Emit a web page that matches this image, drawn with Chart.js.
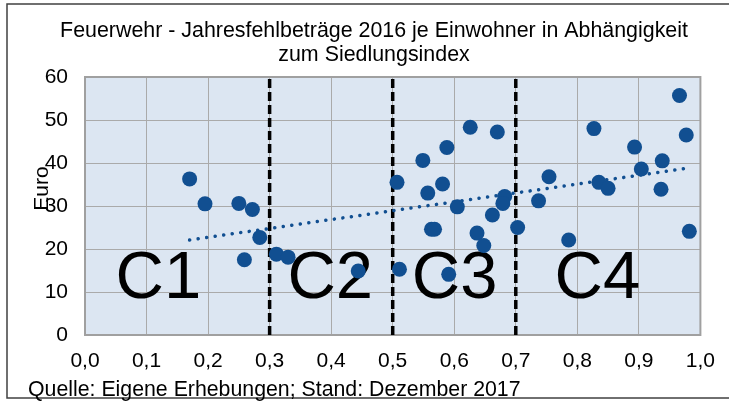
<!DOCTYPE html>
<html>
<head>
<meta charset="utf-8">
<script src="https://cdn.jsdelivr.net/npm/chart.js@4/dist/chart.umd.min.js"></script>
<style>
html,body{margin:0;padding:0;background:#fff;}
#wrap{width:729px;height:403px;position:relative;}
</style>
</head>
<body>
<div id="wrap"><canvas id="c" width="729" height="403"></canvas></div>
<script>
// ---- data ----
const titleLines = ['Feuerwehr - Jahresfehlbeträge 2016 je Einwohner in Abhängigkeit', 'zum Siedlungsindex'];
const yAxisTitle = 'Euro';
const footerText = 'Quelle: Eigene Erhebungen; Stand: Dezember 2017';

const xTickLabels = ['0,0','0,1','0,2','0,3','0,4','0,5','0,6','0,7','0,8','0,9','1,0'];
const yTickLabels = ['0','10','20','30','40','50','60'];

// Siedlungsindex (x) and Euro per inhabitant (y)
const siedlungsindex = [0.170,0.195,0.250,0.272,0.284,0.259,0.311,0.330,0.444,0.507,0.511,0.549,0.557,0.581,0.588,0.626,0.670,0.563,0.568,0.605,0.591,0.637,0.648,0.662,0.682,0.679,0.703,0.737,0.754,0.786,0.827,0.835,0.850,0.893,0.904,0.938,0.936,0.966,0.977,0.982];
const euro =           [36.3, 30.5, 30.6, 29.2, 22.7, 17.5, 18.8, 18.1, 14.9, 35.5, 15.3, 40.6, 33.0, 35.1, 43.6, 48.3, 47.2, 24.6, 24.6, 29.8, 14.1, 23.7, 20.8, 27.9, 32.2, 30.6, 25.0, 31.2, 36.8, 22.1, 48.0, 35.5, 34.1, 43.7, 38.6, 40.5, 33.9, 55.7, 46.5, 24.1];

// linear trend line end points
const trendX = [0.170, 0.982];
const trendY = [22.1, 38.85];

// cluster boundaries (dashed lines)
const boundaries = [0.3, 0.5, 0.7];

// cluster labels and their anchor (left of text, baseline)
const clusterLabels = ['C1','C2','C3','C4'];
const clusterLabelX = [0.0497, 0.329, 0.531, 0.763];
const clusterLabelY = [8.6, 8.6, 8.6, 8.6];

const FONT = "'Liberation Sans', Arial, sans-serif";
const BLUE = '#114f91';

const points = siedlungsindex.map((x, i) => ({x: x, y: euro[i]}));
const trend = trendX.map((x, i) => ({x: x, y: trendY[i]}));

const boundaryDatasets = boundaries.map(b => ({
  data: [{x: b, y: 0}, {x: b, y: 60}],
  showLine: true,
  borderColor: '#000',
  borderWidth: 3.5,
  borderDash: [9, 4],
  pointRadius: 0,
  order: 2
}));

const decor = {
  id: 'decor',
  beforeDraw(chart) {
    const ctx = chart.ctx, a = chart.chartArea;
    ctx.save();
    ctx.fillStyle = '#fff';
    ctx.fillRect(0, 0, chart.width, chart.height);
    ctx.fillStyle = '#dce6f2';
    ctx.fillRect(a.left, a.top, a.right - a.left, a.bottom - a.top);
    ctx.restore();
  },
  beforeDatasetsDraw(chart) {
    const ctx = chart.ctx, a = chart.chartArea;
    const xs = chart.scales.x, ys = chart.scales.y;
    ctx.save();
    // plot border
    ctx.strokeStyle = '#a0a0a0';
    ctx.lineWidth = 2;
    ctx.strokeRect(a.left, a.top, a.right - a.left, a.bottom - a.top);
    // cluster labels
    ctx.fillStyle = '#000';
    ctx.font = '67px ' + FONT;
    ctx.textAlign = 'left';
    ctx.textBaseline = 'alphabetic';
    clusterLabels.forEach((t, i) => {
      ctx.fillText(t, xs.getPixelForValue(clusterLabelX[i]), ys.getPixelForValue(clusterLabelY[i]));
    });
    ctx.restore();
  },
  afterDraw(chart) {
    const ctx = chart.ctx;
    ctx.save();
    // outer frame
    ctx.strokeStyle = '#404040';
    ctx.lineWidth = 1.5;
    ctx.strokeRect(7, 4, 740, 394);
    // title
    ctx.fillStyle = '#000';
    ctx.font = '21.4px ' + FONT;
    ctx.textAlign = 'center';
    ctx.textBaseline = 'alphabetic';
    ctx.fillText(titleLines[0], 374, 37);
    ctx.fillText(titleLines[1], 374, 61);
    // footer
    ctx.font = '21.3px ' + FONT;
    ctx.textAlign = 'left';
    ctx.fillText(footerText, 28, 396);
    // y axis title
    ctx.font = '21px ' + FONT;
    ctx.translate(48, 188.5);
    ctx.rotate(-Math.PI / 2);
    ctx.textAlign = 'center';
    ctx.fillText(yAxisTitle, 0, 0);
    ctx.restore();
  }
};

new Chart(document.getElementById('c'), {
  type: 'scatter',
  data: {
    datasets: [
      {
        data: points,
        backgroundColor: BLUE,
        borderWidth: 0,
        pointRadius: 7.5,
        pointHoverRadius: 7.5,
        order: 0
      },
      {
        data: trend,
        showLine: true,
        borderColor: BLUE,
        borderWidth: 3.5,
        borderDash: [0.1, 8.5],
        borderCapStyle: 'round',
        pointRadius: 0,
        order: 1
      },
      ...boundaryDatasets
    ]
  },
  options: {
    responsive: false,
    animation: false,
    events: [],
    layout: {padding: {top: 77, left: 0, right: 28, bottom: 28}},
    plugins: {legend: {display: false}, tooltip: {enabled: false}, title: {display: false}},
    scales: {
      x: {
        type: 'linear',
        min: 0, max: 1,
        afterFit(s) { s.height = 40; },
        afterBuildTicks(s) { s.ticks = xTickLabels.map((_, i) => ({value: i / 10})); },
        ticks: {
          padding: 14,
          color: '#000',
          font: {family: FONT, size: 21},
          maxRotation: 0,
          autoSkip: false,
          callback: (v, i) => xTickLabels[i]
        },
        grid: {color: '#aaaaaa', lineWidth: 1, drawTicks: false},
        border: {display: false}
      },
      y: {
        type: 'linear',
        min: 0, max: 60,
        afterFit(s) { s.width = 85; },
        ticks: {
          stepSize: 10,
          padding: 17,
          color: '#000',
          font: {family: FONT, size: 21},
          callback: (v, i) => yTickLabels[i]
        },
        grid: {color: '#aaaaaa', lineWidth: 1, drawTicks: false},
        border: {display: false}
      }
    }
  },
  plugins: [decor]
});
</script>
</body>
</html>
